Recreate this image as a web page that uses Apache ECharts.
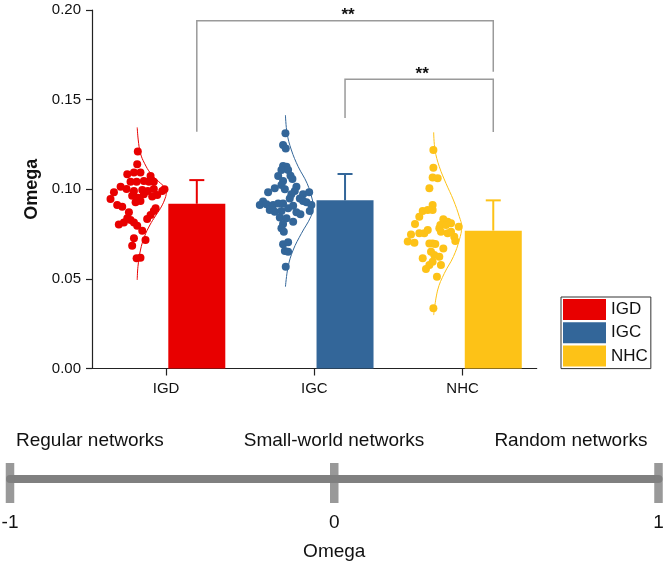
<!DOCTYPE html>
<html><head><meta charset="utf-8">
<script src="https://cdn.jsdelivr.net/npm/echarts@6/dist/echarts.min.js"></script>
<style>html,body{margin:0;padding:0;background:#fff}#c{width:666px;height:567px}</style>
</head><body><div id="c"></div>
<script>
// ---------- data ----------
const categories = ['IGD', 'IGC', 'NHC'];
const barMeans = [0.0919, 0.0938, 0.0769];
const barUpper = [0.1051, 0.1085, 0.0938];
const yTicks = [0, 0.05, 0.10, 0.15, 0.20];

// [horizontal jitter (category units), omega]
const igdPoints = [[0.004,0.1210],[0,0.1139],[-0.067,0.1083],[-0.022,0.1093],[0.022,0.1094],[0.090,0.1074],
 [-0.045,0.1042],[-0.004,0.1042],[0.045,0.1046],[0.079,0.1042],[0.112,0.1042],[-0.112,0.1014],[-0.072,0.1001],
 [-0.157,0.0983],[-0.022,0.0990],[0.034,0.0996],[0.072,0.0990],[0.112,0.1001],[0.169,0.0990],[0.184,0.1000],
 [-0.180,0.0946],[-0.034,0.0964],[0.004,0.0953],[0.045,0.0972],[0.101,0.0959],[0.135,0.0968],[-0.135,0.0912],
 [-0.011,0.0927],[0.022,0.0934],[-0.101,0.0903],[-0.056,0.0871],[0.112,0.0879],[0.090,0.0856],[0.067,0.0834],
 [-0.124,0.0804],[-0.090,0.0814],[-0.045,0.0828],[-0.022,0.0815],[0,0.0797],[0.034,0.0769],[-0.022,0.0726],
 [0.056,0.0717],[-0.034,0.0685],[-0.004,0.0615],[0.022,0.0618],[0.124,0.0894],[-0.067,0.0838]];
const igcPoints = [[0,0.1312],[-0.016,0.1247],[0.002,0.1228],[-0.016,0.1130],[0.007,0.1126],[-0.027,0.1107],
 [0.018,0.1107],[0.034,0.1076],[-0.049,0.1074],[-0.016,0.1046],[0.047,0.1057],[-0.072,0.1005],[-0.027,0.1024],
 [0.074,0.1014],[-0.004,0.1000],[-0.117,0.0983],[0.063,0.0990],[0.040,0.0972],[0.119,0.0972],[0.160,0.0983],
 [0.029,0.0949],[0.097,0.0949],[-0.151,0.0931],[-0.173,0.0912],[-0.128,0.0916],[-0.083,0.0912],[-0.049,0.0921],
 [-0.016,0.0920],[0.119,0.0934],[0.142,0.0927],[0.175,0.0912],[-0.106,0.0884],[-0.072,0.0875],[-0.027,0.0879],
 [0.018,0.0894],[0.052,0.0908],[0.074,0.0871],[0.101,0.0860],[0.164,0.0879],[-0.038,0.0843],[0.007,0.0838],
 [0.052,0.0819],[-0.016,0.0806],[-0.027,0.0782],[-0.011,0.0763],[-0.016,0.0693],[0.018,0.0704],[-0.004,0.0656],
 [0.018,0.0652],[0.002,0.0568],[-0.094,0.0897]];
const nhcPoints = [[-0.002,0.1219],[-0.002,0.1120],[-0.007,0.1065],[0.027,0.1061],[-0.029,0.1005],[-0.007,0.0912],
 [-0.074,0.0879],[-0.040,0.0884],[-0.007,0.0884],[-0.097,0.0847],[-0.126,0.0806],[0.065,0.0832],[0.094,0.0819],
 [0.117,0.0810],[0.045,0.0801],[0.038,0.0782],[0.169,0.0791],[-0.153,0.0748],[-0.097,0.0754],[-0.063,0.0754],
 [-0.040,0.0773],[0.049,0.0763],[0.094,0.0754],[0.139,0.0735],[0.117,0.0763],[-0.175,0.0708],[-0.130,0.0702],
 [-0.029,0.0698],[-0.007,0.0698],[0.011,0.0695],[0.146,0.0711],[0.065,0.0670],[-0.018,0.0652],[0.004,0.0633],
 [0.038,0.0624],[-0.074,0.0615],[-0.007,0.0596],[-0.029,0.0577],[-0.052,0.0555],[0.049,0.0577],[0.022,0.0512],
 [-0.002,0.0336],[0.083,0.0801]];

// density outline: [omega, half-width (category units)]
const igdCurve = [[0.1345,0],[0.1275,0.007],[0.1200,0.022],[0.1145,0.049],[0.1089,0.090],[0.1042,0.146],
 [0.1011,0.184],[0.0981,0.196],[0.0940,0.184],[0.0894,0.157],[0.0851,0.123],[0.0801,0.086],[0.0736,0.049],
 [0.0661,0.022],[0.0568,0.005],[0.0494,0]];
const igcCurve = [[0.1414,0],[0.1312,0.011],[0.1219,0.040],[0.1126,0.086],[0.1033,0.146],[0.0940,0.182],
 [0.0906,0.187],[0.0847,0.171],[0.0754,0.108],[0.0661,0.052],[0.0568,0.018],[0.0456,0]];
const nhcCurve = [[0.1318,0],[0.1219,0.009],[0.1126,0.038],[0.1033,0.083],[0.0940,0.133],[0.0847,0.173],
 [0.0791,0.189],[0.0717,0.173],[0.0624,0.133],[0.0531,0.072],[0.0438,0.027],[0.0298,0]];

// significance brackets: [fromIndex, toIndex, top, leftEnd, rightEnd]
const sigBrackets = [[0, 2, 0.1940, 0.1321, 0.1656], [1, 2, 0.1613, 0.1398, 0.1319]];
const sigLabels = ['**', '**'];

// omega scale
const scaleTicks = [-1, 0, 1];
const scaleRegions = ['Regular networks', 'Small-world networks', 'Random networks'];

// ---------- styles / layout ----------
const FONT = "'Liberation Sans', Arial, Helvetica, sans-serif";
const colors = ['#E80000', '#336699', '#FDC217'];
const VIOLIN_OFF = 0.305, BAR_OFF = 0.707;
const pointSets = [igdPoints, igcPoints, nhcPoints];
const curveSets = [igdCurve, igcCurve, nhcCurve];

const series = [];
categories.forEach((name, i) => {
  series.push({
    type: 'bar', name: name, xAxisIndex: 1, yAxisIndex: 0,
    data: [[i + BAR_OFF, barMeans[i]]], barWidth: 57, barGap: '-100%',
    itemStyle: { color: colors[i] }, silent: true, z: 2
  });
});
categories.forEach((name, i) => {
  series.push({
    type: 'scatter', name: name + ' points', xAxisIndex: 1, yAxisIndex: 0,
    data: pointSets[i].map(p => [i + VIOLIN_OFF + p[0], p[1]]),
    symbolSize: 8, itemStyle: { color: colors[i], opacity: 1 }, silent: true, z: 3
  });
  series.push({
    type: 'line', name: name + ' density', xAxisIndex: 1, yAxisIndex: 0,
    data: curveSets[i].map(c => [i + VIOLIN_OFF + c[1], c[0]]),
    smooth: 0.4, symbol: 'none', lineStyle: { color: colors[i], width: 1 }, silent: true, z: 3
  });
});
series.push({
  type: 'custom', name: 'error', xAxisIndex: 1, yAxisIndex: 0,
  data: categories.map((c, i) => [i + BAR_OFF, barMeans[i], barUpper[i]]),
  encode: { x: 0, y: [1, 2] }, silent: true, z: 4,
  renderItem: (params, api) => {
    const x = api.value(0);
    const p0 = api.coord([x, api.value(1)]);
    const p1 = api.coord([x, api.value(2)]);
    const col = colors[params.dataIndex];
    return { type: 'group', children: [
      { type: 'line', shape: { x1: p0[0], y1: p0[1], x2: p1[0], y2: p1[1] }, style: { stroke: col, lineWidth: 2 } },
      { type: 'line', shape: { x1: p1[0] - 7.5, y1: p1[1], x2: p1[0] + 7.5, y2: p1[1] }, style: { stroke: col, lineWidth: 2 } }
    ] };
  }
});
series.push({
  type: 'custom', name: 'brackets', xAxisIndex: 1, yAxisIndex: 0,
  data: sigBrackets, encode: { x: [0, 1], y: [2, 3, 4] }, silent: true, z: 5,
  renderItem: (params, api) => {
    const xa = api.value(0) + BAR_OFF, xb = api.value(1) + BAR_OFF;
    const tl = api.coord([xa, api.value(2)]), tr = api.coord([xb, api.value(2)]);
    const bl = api.coord([xa, api.value(3)]), br = api.coord([xb, api.value(4)]);
    const st = { stroke: '#9a9a9a', lineWidth: 1.5, fill: null };
    return { type: 'group', children: [
      { type: 'polyline', shape: { points: [bl, tl, tr, br] }, style: st },
      { type: 'text', x: (tl[0] + tr[0]) / 2 + 3, y: tl[1] + 3,
        style: { text: sigLabels[params.dataIndex], font: 'bold 17px ' + FONT, fill: '#111', align: 'center', verticalAlign: 'bottom' } }
    ] };
  }
});
series.push({
  type: 'scatter', name: 'scale caps', xAxisIndex: 2, yAxisIndex: 1,
  data: scaleTicks.map(t => [t, 0]), symbol: 'rect', symbolSize: [8.5, 40], symbolOffset: [0, 4],
  itemStyle: { color: '#808080' }, clip: false, silent: true, z: 3
});

const option = {
  animation: false,
  textStyle: { fontFamily: FONT },
  grid: [
    { left: 92, top: 10, width: 444.7, height: 358.5, outerBoundsMode: 'none' },
    { left: 10, top: 440, width: 648.5, height: 39, outerBoundsMode: 'none' }
  ],
  legend: {
    data: categories.map(n => ({ name: n, icon: 'rect' })),
    orient: 'vertical', left: 561, top: 297, padding: [2, 3, 2, 2], itemGap: 2.3,
    itemWidth: 43, itemHeight: 21, borderColor: '#333', borderWidth: 1, selectedMode: false,
    textStyle: { fontSize: 17, color: '#111', fontFamily: FONT }
  },
  xAxis: [
    { type: 'category', gridIndex: 0, data: categories, boundaryGap: true,
      axisLine: { show: true, lineStyle: { color: '#222', width: 1.2 } },
      axisTick: { show: true, alignWithLabel: true, length: 7, lineStyle: { color: '#222', width: 1.2 } },
      axisLabel: { fontSize: 15, color: '#111', margin: 13, fontFamily: FONT },
      splitLine: { show: false } },
    { type: 'value', gridIndex: 0, min: 0, max: 3, show: false },
    { type: 'value', gridIndex: 1, min: -1, max: 1, interval: 1,
      axisLine: { show: true, lineStyle: { color: '#808080', width: 8 } },
      axisTick: { show: false }, splitLine: { show: false },
      axisLabel: { fontSize: 19, color: '#111', margin: 34, showMinLabel: true, showMaxLabel: true, fontFamily: FONT },
      name: 'Omega', nameLocation: 'middle', nameGap: 63,
      nameTextStyle: { fontSize: 19, color: '#111', fontFamily: FONT } }
  ],
  yAxis: [
    { type: 'value', gridIndex: 0, min: yTicks[0], max: yTicks[yTicks.length - 1], interval: 0.05,
      axisLine: { show: true, lineStyle: { color: '#222', width: 1.2 } },
      axisTick: { show: true, length: 6, lineStyle: { color: '#222', width: 1.2 } },
      axisLabel: { fontSize: 15, color: '#111', margin: 11, formatter: v => v.toFixed(2), fontFamily: FONT },
      splitLine: { show: false },
      name: 'Omega', nameLocation: 'middle', nameGap: 44, nameRotate: 90,
      nameTextStyle: { fontSize: 18, fontWeight: 'bold', color: '#111', fontFamily: FONT } },
    { type: 'value', gridIndex: 1, min: 0, max: 1, show: false }
  ],
  graphic: [
    { type: 'text', x: 16, y: 440.5, style: { text: scaleRegions[0], font: '19px ' + FONT, fill: '#111', align: 'left', verticalAlign: 'middle' } },
    { type: 'text', x: 334, y: 440.5, style: { text: scaleRegions[1], font: '19px ' + FONT, fill: '#111', align: 'center', verticalAlign: 'middle' } },
    { type: 'text', x: 647.5, y: 440.5, style: { text: scaleRegions[2], font: '19px ' + FONT, fill: '#111', align: 'right', verticalAlign: 'middle' } }
  ],
  series: series
};
const chart = echarts.init(document.getElementById('c'), null, { renderer: 'canvas' });
chart.setOption(option);
</script></body></html>
